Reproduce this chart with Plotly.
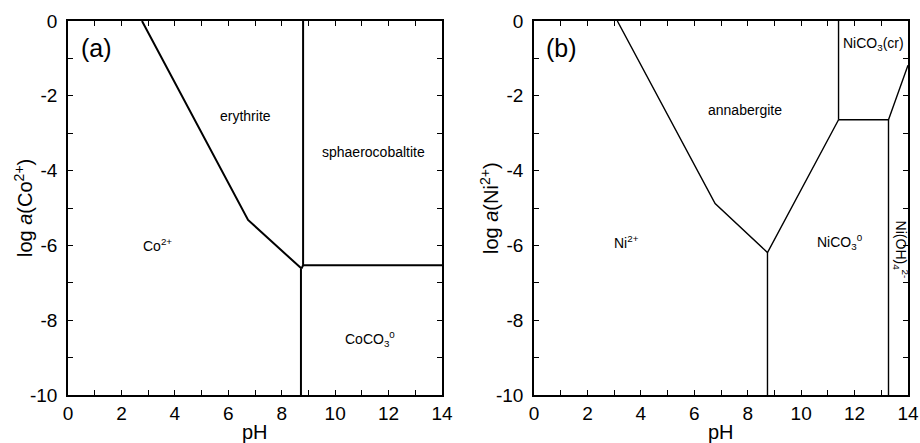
import plotly.graph_objects as go

# ---- data: panel (a) Co system boundaries (pH, log a) ----
co_ery_ph = [2.77, 6.74, 8.74]
co_ery_loga = [0.0, -5.32, -6.62]
co_aq_ph = [8.72, 8.72]
co_aq_loga = [-6.62, -10.0]
co_sph_ph = [8.80, 8.80, 8.74]
co_sph_loga = [0.0, -6.53, -6.62]
co_hor_ph = [8.80, 14.0]
co_hor_loga = [-6.53, -6.53]

# ---- data: panel (b) Ni system boundaries ----
ni_ann_ph = [3.12, 6.78, 8.74, 11.40]
ni_ann_loga = [0.0, -4.88, -6.19, -2.64]
ni_aq_ph = [8.74, 8.74]
ni_aq_loga = [-6.19, -10.0]
ni_cr_ph = [11.40, 11.40]
ni_cr_loga = [0.0, -2.64]
ni_hor_ph = [11.40, 13.27, 14.0]
ni_hor_loga = [-2.64, -2.64, -1.18]
ni_oh_ph = [13.27, 13.27]
ni_oh_loga = [-2.64, -10.0]

# ---- labels ----
co_labels = [("erythrite", 6.65, -2.55, 0), ("sphaerocobaltite", 11.42, -3.5, 0),
             ("Co<sup>2+</sup>", 3.36, -6.0, 0), ("CoCO<sub>3</sub><sup>0</sup>", 11.3, -8.5, 0)]
ni_labels = [("annabergite", 7.88, -2.39, 0), ("NiCO<sub>3</sub>(cr)", 12.71, -0.62, 0),
             ("Ni<sup>2+</sup>", 3.47, -5.9, 0), ("NiCO<sub>3</sub><sup>0</sup>", 11.47, -5.9, 0),
             ("Ni(OH)<sub>4</sub><sup>2-</sup>", 13.72, -6.1, 90)]

x_ticks = [0, 2, 4, 6, 8, 10, 12, 14]
x_ticktext = ["0", "2", "4", "6", "8", "10", "12", "14"]
y_ticks = [0, -2, -4, -6, -8, -10]
y_ticktext = ["0", "-2", "-4", "-6", "-8", "-10"]

FONT = "Liberation Sans, Arial, sans-serif"

fig = go.Figure()

def add_line(xs, ys, ax, width):
    fig.add_trace(go.Scatter(x=xs, y=ys, mode="lines", xaxis=ax[0], yaxis=ax[1],
                             line=dict(color="black", width=width), showlegend=False,
                             hoverinfo="skip"))

for xs, ys in [(co_ery_ph, co_ery_loga), (co_aq_ph, co_aq_loga),
               (co_sph_ph, co_sph_loga), (co_hor_ph, co_hor_loga)]:
    add_line(xs, ys, ("x", "y"), 2)
for xs, ys in [(ni_ann_ph, ni_ann_loga), (ni_aq_ph, ni_aq_loga), (ni_cr_ph, ni_cr_loga),
               (ni_hor_ph, ni_hor_loga), (ni_oh_ph, ni_oh_loga)]:
    add_line(xs, ys, ("x2", "y2"), 1.4)

ann = []
def label(t, x, y, xr, yr, size, angle=0):
    ann.append(dict(text=t, x=x, y=y, xref=xr, yref=yr, showarrow=False, textangle=angle,
                    xanchor="center", yanchor="middle",
                    font=dict(size=size, color="black", family=FONT)))

for t, x, y, a in co_labels:
    label(t, x, y, "x", "y", 14, a)
for t, x, y, a in ni_labels:
    label(t, x, y, "x2", "y2", 14, a)
label("(a)", 1.07, -0.72, "x", "y", 25)
label("(b)", 1.03, -0.72, "x2", "y2", 25)

# axis titles as annotations in pixel-mapped paper coords
W, H = 920, 443
ML, MR, MT, MB = 68, 12, 21, 48
PW, PH = W - ML - MR, H - MT - MB

def px(xp):
    return (xp - ML) / PW

def py(yp):
    return (H - MB - yp) / PH

label("log <i>a</i>(Co<sup>2+</sup>)", px(23), py(208), "paper", "paper", 20, -90)
label("log <i>a</i>(Ni<sup>2+</sup>)", px(489), py(208), "paper", "paper", 20, -90)
label("pH", px(255), py(432), "paper", "paper", 20)
label("pH", px(721), py(432), "paper", "paper", 20)

def xaxis(domain, anchor):
    return dict(domain=domain, anchor=anchor, range=[0, 14], tickvals=x_ticks, ticktext=x_ticktext,
                ticks="inside", ticklen=5, tickwidth=1, tickcolor="black",
                minor=dict(dtick=1, tick0=0, ticks="inside", ticklen=5, tickcolor="black"),
                showline=True, linecolor="black", linewidth=1.5, mirror="ticks",
                showgrid=False, zeroline=False, automargin=False, ticklabelstandoff=0,
                tickfont=dict(size=19, color="black", family=FONT))

def yaxis(domain, anchor):
    return dict(domain=domain, anchor=anchor, range=[-10, 0], tickvals=y_ticks, ticktext=y_ticktext,
                ticks="inside", ticklen=5, tickwidth=1, tickcolor="black",
                minor=dict(dtick=1, tick0=0, ticks="inside", ticklen=5, tickcolor="black"),
                showline=True, linecolor="black", linewidth=1.5, mirror="ticks",
                showgrid=False, zeroline=False, automargin=False, ticklabelstandoff=5,
                tickfont=dict(size=19, color="black", family=FONT))

fig.update_layout(
    width=W, height=H, margin=dict(l=ML, r=MR, t=MT, b=MB, autoexpand=False),
    paper_bgcolor="white", plot_bgcolor="white",
    xaxis=xaxis([0, 374 / PW], "y"),
    yaxis=yaxis([0, 1], "x"),
    xaxis2=xaxis([(534 - ML) / PW, 1], "y2"),
    yaxis2=yaxis([0, 1], "x2"),
    annotations=ann,
)

fig.write_html("out.html")
